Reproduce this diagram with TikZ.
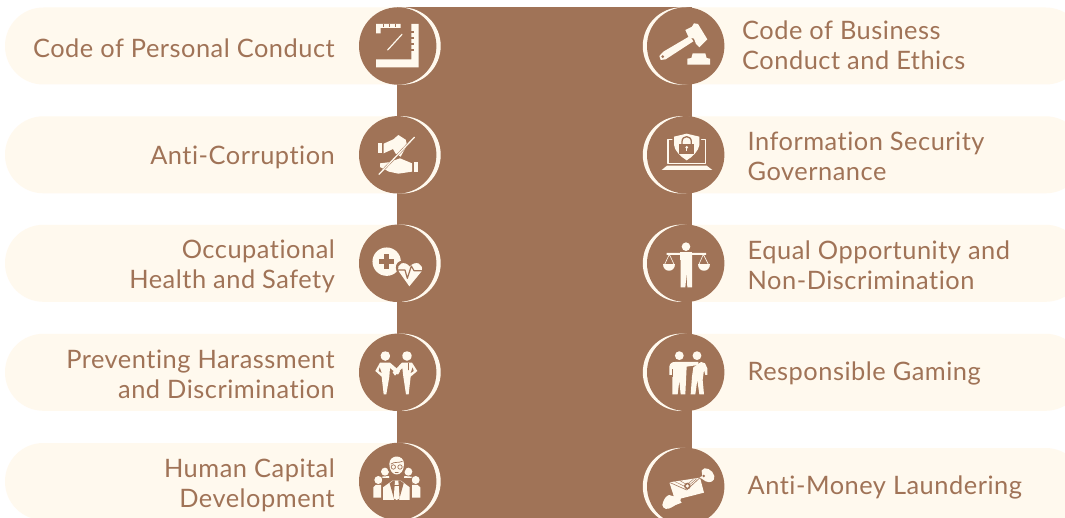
\documentclass[tikz,border=0pt]{standalone}
\usepackage{fontspec}
\setmainfont[LetterSpace=2,Ligatures=NoCommon]{Lato}
\definecolor{brn}{HTML}{A07357}
\definecolor{crm}{HTML}{FFF9EE}
\tikzset{
  lab/.style={text=brn,font=\fontsize{25.4}{29.5}\selectfont,inner sep=0pt},
  labl/.style={lab,align=right,anchor=east},
  labr/.style={lab,align=left,anchor=west},
  pill/.style={fill=crm,draw=none},
  disc/.style={fill=brn,draw=none},
  rim/.style={fill=crm,draw=none},
  ic/.style={fill=crm,draw=none},
  icb/.style={fill=brn,draw=none},
  icl/.style={draw=crm,fill=none,line cap=round,line join=round},
  ibl/.style={draw=brn,fill=none,line cap=round,line join=round},
  zoomed/.style={shift={#1},x=0.3333pt,y=-0.3333pt},
}
\begin{document}
\begin{tikzpicture}[x=1pt,y=-1pt]
\useasboundingbox (0,0) rectangle (1065,518);
\fill[white] (0,0) rectangle (1065,518);
% left pills
\foreach \c in {46,154.8,263.3,372.3,481.5}{
  \fill[pill,rounded corners=38.4pt] (5,\c-38.5) rectangle (460,\c+38.5);
}
% right pills
\foreach \c in {46,154.8,263.3,372.3,486.5}{
  \fill[pill,rounded corners=38.4pt] (640,\c-38.5) rectangle (1084,\c+38.5);
}
\fill[brn] (397,7) rectangle (692,518);
% left discs
\foreach \c in {46,154.8,263.3,372.3,481.5}{
  \fill[rim] (402,\c) circle (38.7);
  \fill[disc] (397.7,\c) circle (38.7);
}
\foreach \c in {46,154.8,263.3,372.3,486.5}{
  \fill[rim] (681.5,\c) circle (38.7);
  \fill[disc] (685.7,\c) circle (38.7);
}
% labels
\node[labl] (a1) at (335,48.5) {Code of Personal Conduct};
\node[labl] (a2) at (335,157) {Anti-Corruption};
\node[labl] (a3) at (335,266.5) {Occupational\\Health and Safety};
\node[labl] (a4) at (335,374.5) {Preventing Harassment\\and Discrimination};
\node[labl] (a5) at (335,485.5) {Human Capital\\Development};
\node[labr] (b1) at (742,45.5) {Code of Business\\Conduct and Ethics};
\node[labr] (b2) at (747.5,156.5) {Information Security\\Governance};
\node[labr] (b3) at (747.5,265) {Equal Opportunity and\\Non-Discrimination};
\node[labr] (b4) at (747.5,373.5) {Responsible Gaming};
\node[labr] (b5) at (747.5,487) {Anti-Money Laundering};
% ruler
\begin{scope}[zoomed={(340,0)}]
\fill[ic] (108,72)--(182,72)--(182,84)--(122,84)--(122,100)--(108,100)--cycle;
\fill[ic] (214,72)--(236,72)--(236,202)--(108,202)--(108,178)--(214,178)--cycle;
\foreach \y in {92,110,128,146}{\fill[icb] (214,\y) rectangle (222,\y+6);}
\foreach \x in {128,146,164}{\fill[icb] (\x,72) rectangle (\x+5,80);}
\draw[icl,line width=1.2pt] (143,150)--(186,103);
\end{scope}
% hands
\begin{scope}[zoomed={(365,125)}]
\fill[ic] (40,55) rectangle (52,85);
\fill[ic] (56,56)--(85,43)--(100,30)--(122,44)--(126,60)--(107,95)--(92,86)--(84,72)--(56,85)--cycle;
\fill[ic] (146,112) rectangle (158,142);
\fill[ic] (45,115)--(70,112)--(105,100)--(141,115)--(141,140)--(100,146)--(72,140)--(45,126)--cycle;
\draw[ibl,line width=2.2pt] (148,37)--(42,148);
\draw[icl,line width=1.3pt] (148,37)--(42,148);
\end{scope}
% health, harassment
\begin{scope}[zoomed={(340,210)}]
\fill[ic] (140,155) circle (14.2pt);
\fill[icb] (132,133) rectangle (147,176);
\fill[icb] (118,147) rectangle (162,162);
\fill[icb] (208,220) -- (170,185) .. controls (158,150) and (195,145) .. (209,160) .. controls (225,145) and (260,150) .. (250,185) -- cycle;
\fill[ic] (208,229) -- (177,185) .. controls (166,160) and (195,150) .. (209,170) .. controls (225,150) and (254,160) .. (244,185) -- cycle;
\draw[ibl,line width=1.2pt] (176,180)--(195,180)--(202,205)--(214,168)--(222,182)--(244,182);
% two people shaking hands
\fill[ic] (122,436) .. controls (122,420) and (150,420) .. (150,436) .. controls (150,458) and (122,458) .. (122,436) -- cycle;
\fill[ic] (187,436) .. controls (187,420) and (215,420) .. (215,436) .. controls (215,458) and (187,458) .. (187,436) -- cycle;
\fill[ic] (120,458)--(150,458)--(180,484)--(174,494)--(150,474)--(148,500)--(139,553)--(131,553)--(125,500)--(106,483)--cycle;
\fill[icb] (119,472)--(116,483)--(125,489)--cycle;
\fill[ic] (186,458)--(216,458)--(232,483)--(212,500)--(206,553)--(198,553)--(190,500)--(187,474)--(165,497)--(158,487)--cycle;
\fill[icb] (218,472)--(221,483)--(212,489)--cycle;
\draw[ibl,line width=0.5pt] (204,460)--(204,480);
\end{scope}
% team
\begin{scope}[zoomed={(365,450)}]
\fill[ic] (60,65) circle (4pt);
\fill[ic] (130,65) circle (4pt);
\fill[ic] (42,100)--(50,80)--(72,78)--(78,125)--(45,125)--cycle;
\fill[ic] (148,100)--(140,80)--(118,78)--(112,125)--(145,125)--cycle;
\fill[icb] (152,90) circle (5pt);
\fill[ic] (152,90) circle (4pt);
\fill[icb] (40,90) circle (5pt);
\fill[ic] (40,90) circle (4pt);
\fill[icb] (22,103) rectangle (54,147);
\fill[icb] (136,103) rectangle (170,147);
\fill[ic] (25,143)--(25,112)--(32,105)--(48,105)--(48,143)--cycle;
\fill[ic] (166,143)--(166,112)--(158,105)--(141,105)--(141,143)--cycle;
\fill[icb] (50,85)--(140,85)--(140,155)--(50,155)--cycle;
\fill[icb] (66,45) .. controls (66,5) and (124,5) .. (124,45) .. controls (124,90) and (66,90) .. (66,45) -- cycle;
\fill[ic] (54,150)--(54,112)--(82,92)--(108,92)--(134,112)--(134,150)--cycle;
\fill[icb] (84,92)--(74,100)--(88,150)--(102,150)--(116,100)--(106,92)--cycle;
\fill[ic] (90,92)--(100,92)--(101,105)--(104,145)--(95,150)--(86,145)--(89,105)--cycle;
\fill[icb] (88,104) rectangle (102,107);
\fill[ic] (73,42) .. controls (73,12) and (117,12) .. (117,42) .. controls (117,84) and (73,84) .. (73,42) -- cycle;
\draw[ibl,line width=0.7pt] (78,42) .. controls (88,34) and (100,40) .. (112,34);
\draw[ibl,line width=0.7pt] (85,51) circle (2.2pt);
\draw[ibl,line width=0.7pt] (105,51) circle (2.2pt);
\draw[ibl,line width=0.5pt] (90,66) -- (100,66);
\end{scope}
% gavel
\begin{scope}[zoomed={(630,0)}]
\fill[ic] (166,90)--(186,80)--(192,70)--(204,72)--(232,118)--(222,128)--(208,142)--(198,132)--(192,116)--(176,112)--cycle;
\fill[ic] (180,108)--(190,124)--(107,178)--(92,180)--(88,168)--(100,155)--cycle;
\fill[icb] (98,170) circle (1.5pt);
\fill[ic] (172,194)--(172,176)--(184,174)--(188,160)--(226,160)--(230,174)--(240,176)--(240,194)--cycle;
\end{scope}
% laptop
\begin{scope}[zoomed={(655,125)}]
\fill[ic] (20,135)--(36,122)--(155,122)--(172,135)--cycle;
\draw[icl,line width=1.2pt] (56,43)--(39,43)--(39,115)--(152,115)--(152,43)--(135,43);
\fill[icb] (95,20)--(138,30)--(138,60) .. controls (136,80) and (115,100) .. (95,112) .. controls (75,100) and (54,80) .. (52,60) -- (52,30) -- cycle;
\fill[ic] (95,26)--(133,35)--(133,60) .. controls (131,78) and (112,96) .. (95,106) .. controls (78,96) and (59,78) .. (57,60) -- (57,35) -- cycle;
\fill[icb] (73,57) rectangle (117,86);
\draw[ibl,line width=1.3pt] (81,58)--(81,50) .. controls (81,30) and (109,30) .. (109,50)--(109,58);
\fill[ic] (95,67) circle (1.5pt);
\fill[ic] (93.5,68) rectangle (96.5,78);
\end{scope}
% scale man, two men
\begin{scope}[zoomed={(630,210)}]
\fill[ic] (168,110) circle (4.3pt);
\fill[ic] (110,129)--(228,129)--(228,135)--(186,135)--(186,232)--(172,232)--(170,190)--(166,232)--(152,232)--(152,135)--(110,135)--cycle;
\fill[ic] (151,127) rectangle (186,150);
\draw[icl,line width=0.6pt] (118,133)--(103,165) (118,133)--(133,165) (220,133)--(206,165) (220,133)--(236,165);
\fill[ic] (100,163) .. controls (100,188) and (136,188) .. (136,163) -- cycle;
\fill[ic] (204,163) .. controls (204,188) and (240,188) .. (240,163) -- cycle;
% two men
\fill[ic] (148,437) circle (4.4pt);
\fill[ic] (201,437) circle (4.4pt);
\fill[ic] (118,495)--(118,470) .. controls (120,460) and (125,456) .. (135,456) -- (205,456) -- (205,465) -- (170,470) -- (166,553) -- (152,553) -- (148,512) -- (143,553) -- (127,553) -- (127,495) -- (122,495) --cycle;
\fill[icb] (127,478) rectangle (129,500);
\fill[ic] (182,553)--(186,500)--(190,472)--(213,456)--(225,460)--(232,475)--(232,495)--(226,495)--(222,480)--(218,510)--(222,553)--(208,553)--(202,510)--(196,553)--cycle;
\end{scope}
% envelope
\begin{scope}[zoomed={(655,450)}]
\fill[ic] (43,97)--(135,83)--(147,128)--(60,150)--cycle;
\draw[ibl,line width=0.6pt] (43,97)--(95,120)--(135,83);
\draw[ibl,line width=0.4pt] (60,95)--(95,112)--(125,86) (75,92)--(95,104)--(115,88);
\fill[icb] (97,108) circle (3.3pt);
\fill[ic] (97,108) circle (1.8pt);
\fill[ic] (140,62) .. controls (146,45) and (175,60) .. (178,78) .. controls (180,95) and (165,100) .. (152,94) -- (134,82) -- (142,78) -- cycle;
\fill[icb] (146,78) circle (1.4pt);
\fill[ic] (22,165) .. controls (25,150) and (32,138) .. (42,135) -- (78,145) -- (76,152) -- (80,158) -- (62,165) -- (50,172) .. controls (38,180) and (24,178) .. (22,165) -- cycle;
\end{scope}
\end{tikzpicture}
\end{document}
